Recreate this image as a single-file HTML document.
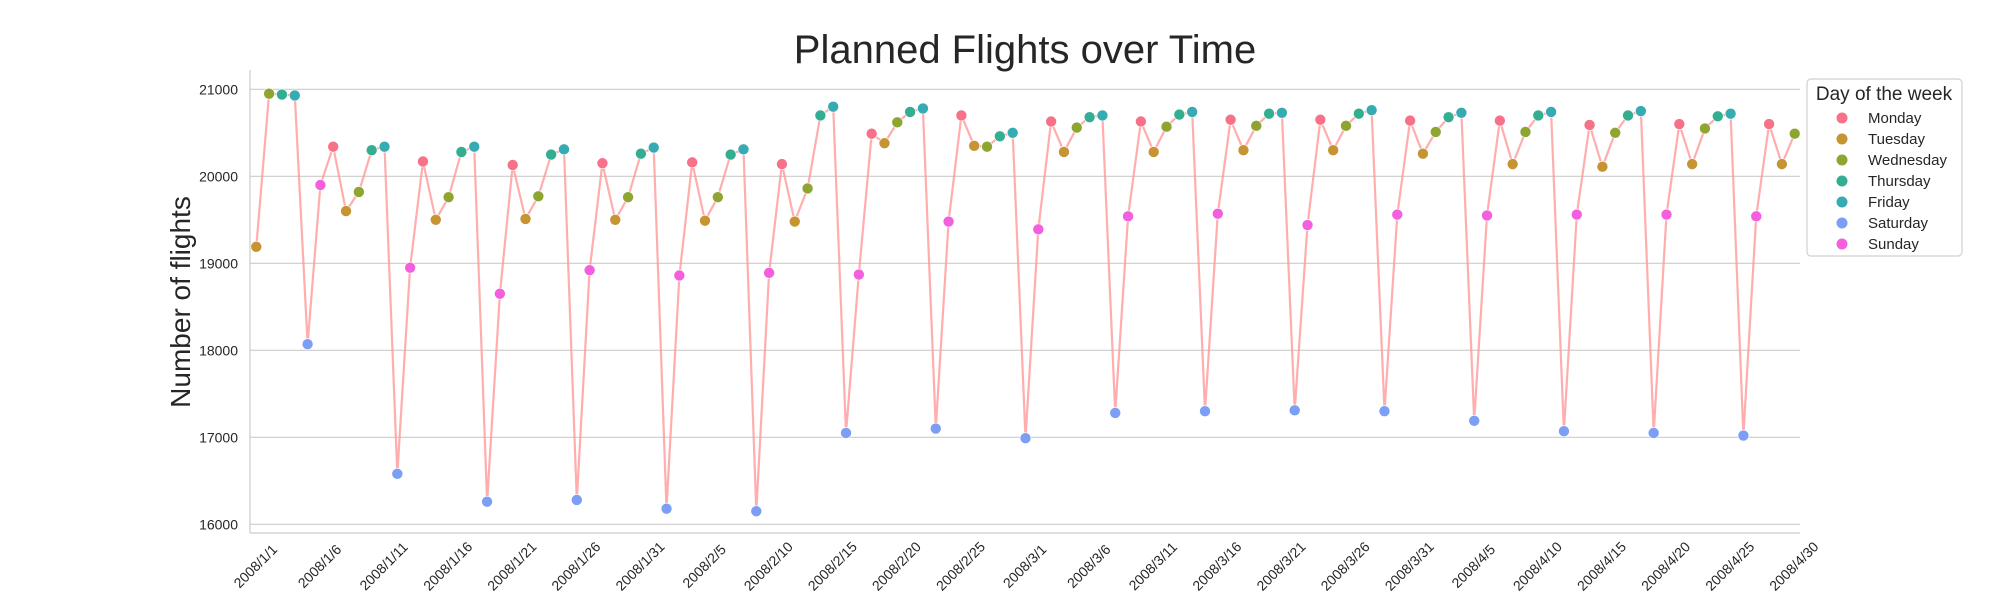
<!DOCTYPE html>
<html><head><meta charset="utf-8"><style>
body{margin:0;background:#fff;}
svg text{font-family:"Liberation Sans",Arial,sans-serif;fill:#262626;}
</style></head><body>
<svg id="chart" width="2000" height="600" xmlns="http://www.w3.org/2000/svg">
<text x="1025" y="63" font-size="40" text-anchor="middle">Planned Flights over Time</text>
<text transform="translate(190,302) rotate(-90)" font-size="28" text-anchor="middle">Number of flights</text>
<g id="grid"></g>
<g id="axes"></g>
<g id="series"></g>
<g id="legend"></g>
</svg>
<script>
const startDay = "2008/1/1";
const flights = [19190,20950,20940,20930,18070,19900,20340,19600,19820,20300,20340,16580,18950,20170,19500,19760,20280,20340,16260,18650,20130,19510,19770,20250,20310,16280,18920,20150,19500,19760,20260,20330,16180,18860,20160,19490,19760,20250,20310,16150,18890,20140,19480,19860,20700,20800,17050,18870,20490,20380,20620,20740,20780,17100,19480,20700,20350,20340,20460,20500,16990,19390,20630,20280,20560,20680,20700,17280,19540,20630,20280,20570,20710,20740,17300,19570,20650,20300,20580,20720,20730,17310,19440,20650,20300,20580,20720,20760,17300,19560,20640,20260,20510,20680,20730,17190,19550,20640,20140,20510,20700,20740,17070,19560,20590,20110,20500,20700,20750,17050,19560,20600,20140,20550,20690,20720,17020,19540,20600,20140,20490];
const dayNames = ["Monday","Tuesday","Wednesday","Thursday","Friday","Saturday","Sunday"];
const dayColors = ["#f77189","#c69432","#8ea531","#34ae91","#37abb4","#7c9ef4","#f45fdd"];
const yTicks = [16000,17000,18000,19000,20000,21000];
const firstWeekday = 1; // Jan 1 2008 = Tuesday (index into dayNames)

const NS="http://www.w3.org/2000/svg";
function mk(tag,attrs,parent){const e=document.createElementNS(NS,tag);for(const k in attrs)e.setAttribute(k,attrs[k]);parent.appendChild(e);return e;}
const L=250,R=1800,T=70,B=533;
const x0=256.3, dx=12.82;
function xs(i){return x0+i*dx;}
function ys(v){return 89.3+(21000-v)/1000*87;}
const grid=document.getElementById('grid'),axes=document.getElementById('axes'),ser=document.getElementById('series'),leg=document.getElementById('legend');

yTicks.forEach(v=>{
  const g=mk('line',{x1:L,x2:R,y1:ys(v),y2:ys(v),stroke:'#cccccc','stroke-width':1.2},grid);
  
  
  const t=mk('text',{x:L-12,y:ys(v)+5,'font-size':14,'text-anchor':'end'},axes);
  
  
  t.textContent=v;
});
const sp1=mk('line',{x1:L,x2:L,y1:T,y2:B,stroke:'#cccccc','stroke-width':1.2},axes);


const sp2=mk('line',{x1:L,x2:R,y1:B,y2:B,stroke:'#cccccc','stroke-width':1.2},axes);



const base=new Date(2008,0,1);
for(let i=0;i<flights.length;i+=5){
  const d=new Date(2008,0,1+i);
  const lab=d.getFullYear()+"/"+(d.getMonth()+1)+"/"+d.getDate();
  const t=mk('text',{transform:`translate(${xs(i)},${567}) rotate(-45)`,'font-size':14,'text-anchor':'middle','dominant-baseline':'middle'},axes);
  
  
  t.textContent=lab;
}

const pts=flights.map((v,i)=>xs(i).toFixed(1)+","+ys(v).toFixed(1)).join(" ");
const pl=mk('polyline',{points:pts,fill:'none',stroke:'#ff9999','stroke-opacity':0.8,'stroke-width':2.2},ser);


flights.forEach((v,i)=>{
  const w=(firstWeekday+i)%7;
  const c=mk('circle',{cx:xs(i),cy:ys(v),r:5.5,fill:dayColors[w],stroke:'#fff','stroke-width':0.6},ser);
  
  
});

const box=mk('rect',{x:1807,y:79,width:155,height:177,rx:4,fill:'#fff',stroke:'#d0d0d0','stroke-width':1.2},leg);


const lt=mk('text',{x:1884,y:100,'font-size':19,'text-anchor':'middle'},leg);


lt.textContent="Day of the week";
dayNames.forEach((n,k)=>{
  const cy=118+k*21;
  const c=mk('circle',{cx:1842,cy:cy,r:5.5,fill:dayColors[k]},leg);
  
  
  const t=mk('text',{x:1868,y:cy+5,'font-size':15},leg);
  
  
  t.textContent=n;
});
</script>
</body></html>
